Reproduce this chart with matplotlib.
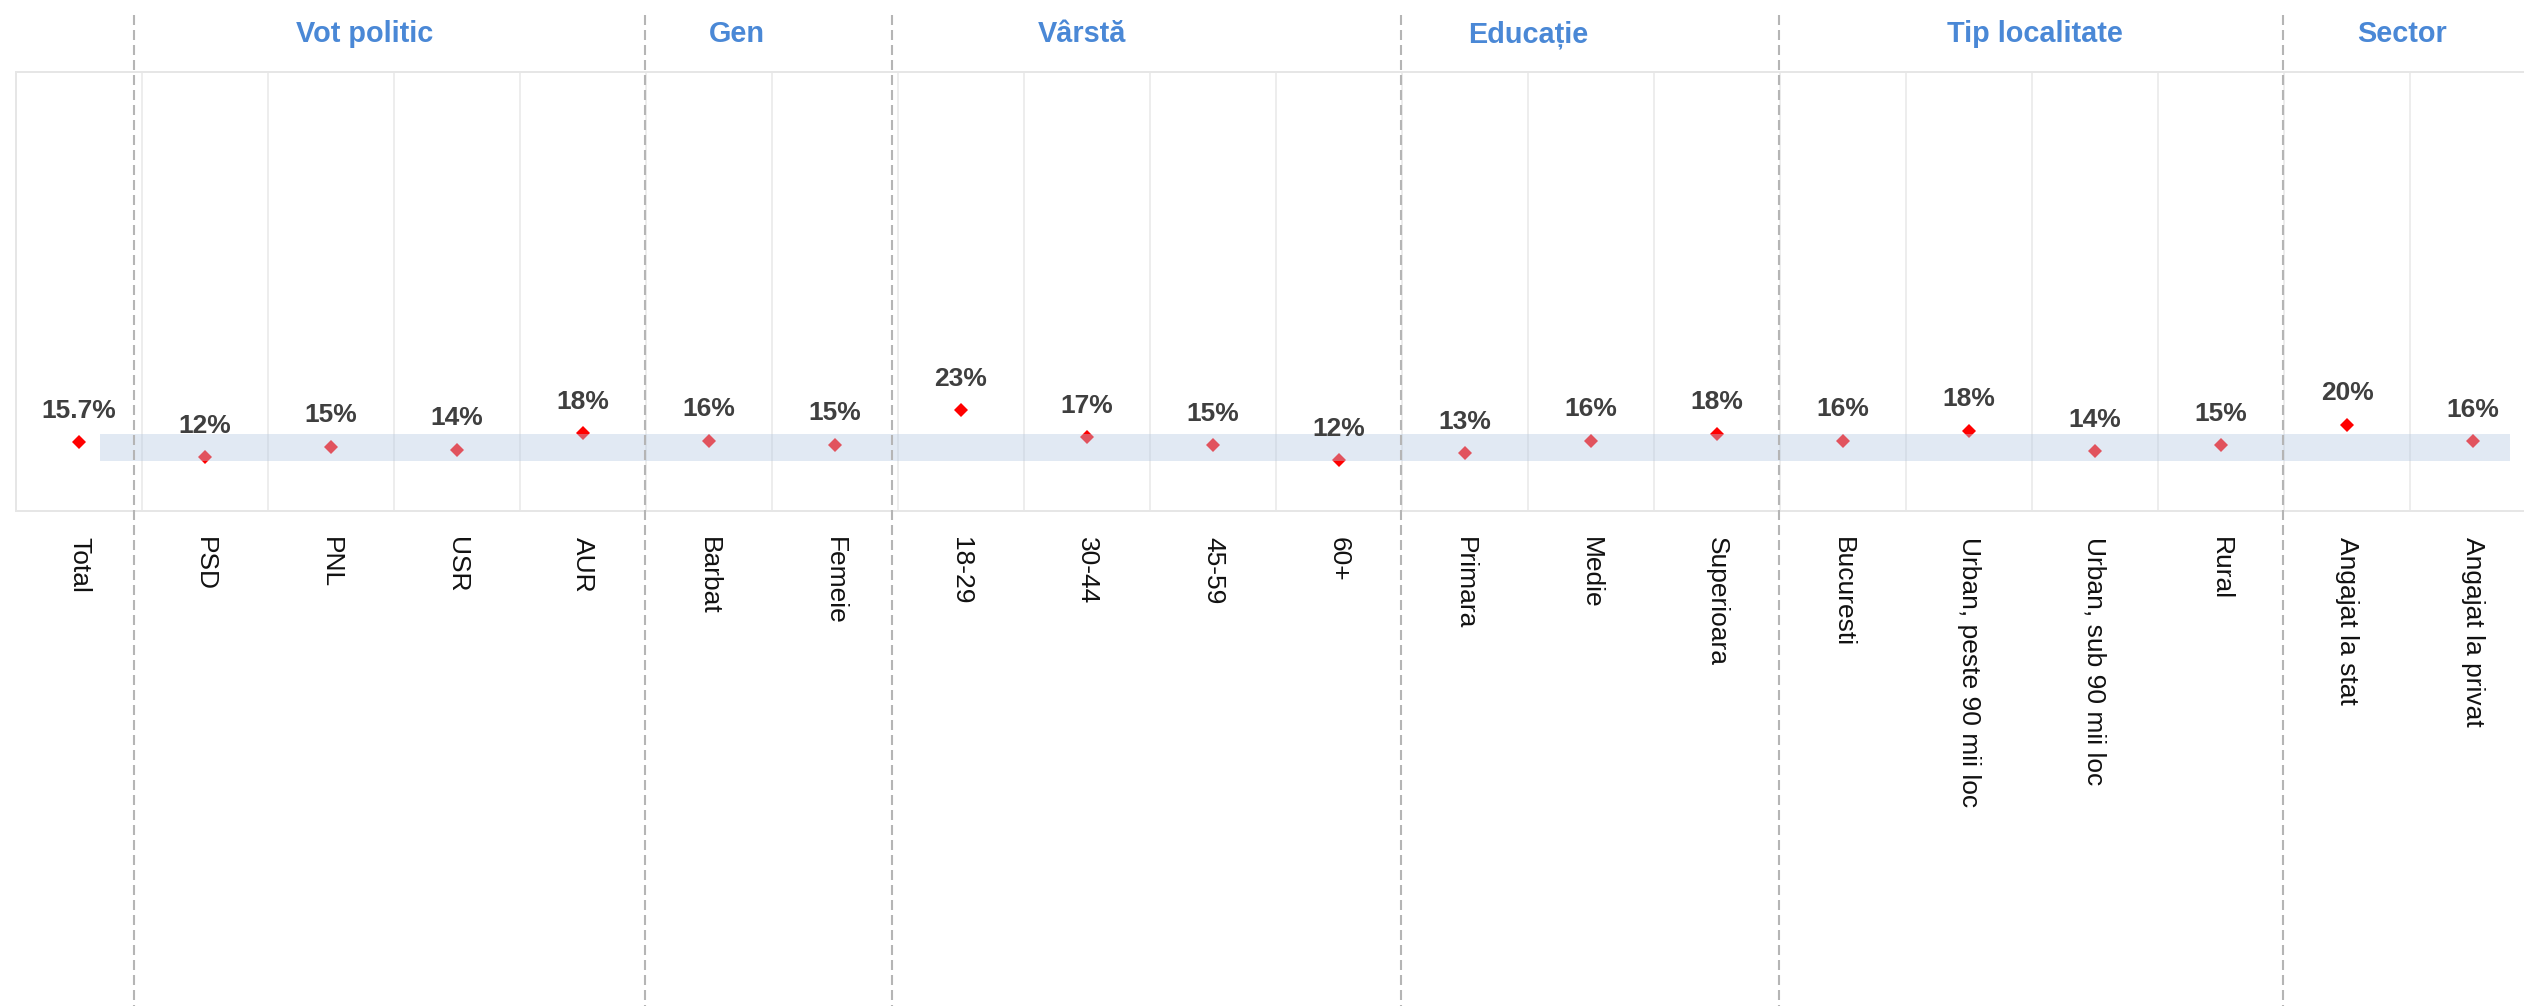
import matplotlib
matplotlib.use("Agg")
import matplotlib.pyplot as plt
from matplotlib.transforms import blended_transform_factory
from matplotlib.lines import Line2D

plt.rcParams['font.family'] = ['Liberation Sans', 'DejaVu Sans']

# ---------------- data ----------------
categories = ["Total", "PSD", "PNL", "USR", "AUR", "Barbat", "Femeie",
              "18-29", "30-44", "45-59", "60+", "Primara", "Medie", "Superioara",
              "Bucuresti", "Urban, peste 90 mii loc", "Urban, sub 90 mii loc", "Rural",
              "Angajat la stat", "Angajat la privat"]
values = [15.7, 12.2, 14.6, 14.0, 17.7, 16.0, 15.1,
          23.0, 16.8, 15.0, 11.6, 13.1, 16.0, 17.6,
          16.0, 18.3, 13.6, 15.0, 19.7, 15.9]
groups = ["Vot politic", "Gen", "Vârstă", "Educație", "Tip localitate", "Sector"]
group_label_x = [2.27, 5.22, 7.96, 11.50, 15.52, 18.44]
group_sep_x = [0.44, 4.49, 6.45, 10.49, 13.49, 17.49]
band_low, band_high = 11.5, 17.5

# ---------------- figure ----------------
W, H = 2524, 1006
fig = plt.figure(figsize=(W / 100, H / 100), dpi=100)
left_px, right_px, top_px, bot_px = 16, 2536, 72, 511
ax = fig.add_axes([left_px / W, 1 - bot_px / H, (right_px - left_px) / W, (bot_px - top_px) / H])

x = list(range(len(categories)))
ax.set_xlim(-0.5, len(categories) - 0.5)
ax.set_ylim(0, 100)

grid_c = '#ececec'
for k in range(len(categories) - 1):
    ax.axvline(k + 0.5, color=grid_c, lw=1.3, zorder=1)
for s in ['top', 'bottom', 'left']:
    ax.spines[s].set_color('#e6e6e6')
    ax.spines[s].set_linewidth(1.4)
ax.spines['right'].set_visible(False)

# markers
ax.plot(x, values, linestyle='none', marker='D', ms=7, mew=0,
        color='#ff0000', zorder=3)

# band (drawn over markers, semi-transparent)
ax.axhspan(band_low, band_high, xmin=(100 - left_px) / (right_px - left_px),
           xmax=(2510 - left_px) / (right_px - left_px),
           color='#b7cae3', alpha=0.41, lw=0, zorder=4)

# value labels
for i, v in enumerate(values):
    lab = f"{v:.1f}%" if i == 0 else f"{int(round(v))}%"
    ax.annotate(lab, (i, v), xytext=(0, 17.6), textcoords='offset points',
                ha='center', va='baseline', fontsize=19, fontweight='bold',
                color='#3f3f3f', zorder=6)

# ticks
ax.set_yticks([])
ax.set_xticks(x)
ax.set_xticklabels(categories, rotation=270, fontsize=19, color='#111111',
                   ha='center', va='top')
ax.tick_params(axis='x', length=0, pad=18.5)

# group separators (dashed, spanning the figure height)
trans = blended_transform_factory(ax.transData, fig.transFigure)
for sx in group_sep_x:
    ln = Line2D([sx, sx], [1 - 15 / H, 0], transform=trans, color='#b5b5b5',
                lw=1.5, linestyle=(0, (4.8, 2.4)), clip_on=False, zorder=7)
    fig.add_artist(ln)

# group headers
for g, gx in zip(groups, group_label_x):
    ax.text(gx, 1 - 42.3 / H, g, transform=trans, ha='center', va='baseline',
            fontsize=20.8, fontweight='bold', color='#4a88d6')

fig.savefig("out.png", dpi=100)
